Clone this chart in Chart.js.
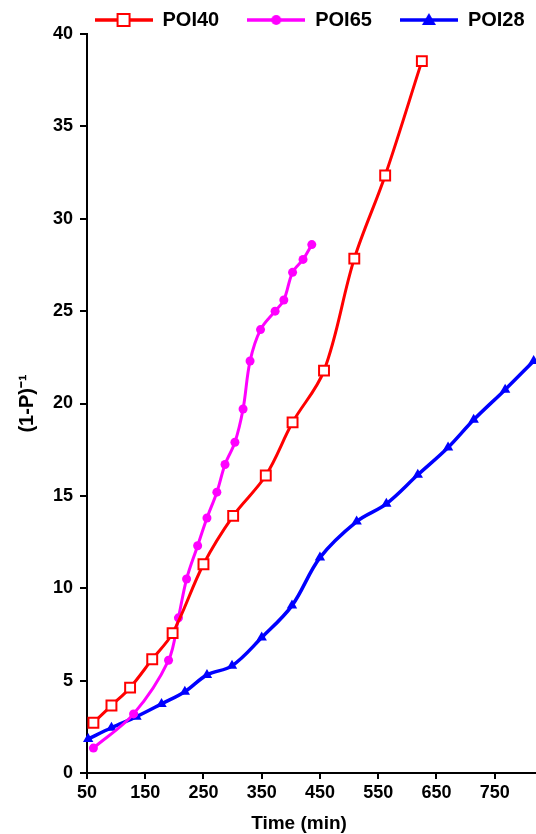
<!DOCTYPE html>
<html>
<head>
<meta charset="utf-8">
<script src="https://cdn.jsdelivr.net/npm/chart.js@4.4.1/dist/chart.umd.min.js"></script>
<style>
html,body{margin:0;padding:0;background:#fff;overflow:hidden;}
#wrap{width:536px;height:834px;position:relative;}
canvas{display:block;}
</style>
</head>
<body>
<div id="wrap"><canvas id="c" width="536" height="834"></canvas></div>
<script>
// ---- data ----
const seriesNames = ['POI40', 'POI65', 'POI28'];

const poi40Time  = [61, 92, 124, 162, 197, 250, 301, 357, 403, 457, 509, 562, 625];
const poi40Value = [2.72, 3.65, 4.62, 6.16, 7.57, 11.3, 13.92, 16.1, 18.98, 21.78, 27.84, 32.34, 38.53];

const poi65Time  = [61, 130, 190, 207, 221, 240, 256, 273, 287, 304, 318, 330, 348, 373, 388, 403, 421, 436];
const poi65Value = [1.35, 3.2, 6.1, 8.4, 10.5, 12.3, 13.8, 15.2, 16.7, 17.9, 19.7, 22.3, 24.0, 25.0, 25.6, 27.1, 27.8, 28.6];

const poi28Time  = [52, 92, 135, 178, 218, 256, 299, 350, 402, 450, 513, 564, 618, 670, 714, 768, 817];
const poi28Value = [1.84, 2.45, 3.05, 3.74, 4.4, 5.31, 5.8, 7.33, 9.06, 11.66, 13.61, 14.57, 16.14, 17.62, 19.12, 20.75, 22.3];

const xTickValues = [50, 150, 250, 350, 450, 550, 650, 750];
const xMin = 50, xMax = 821;
const yTickValues = [0, 5, 10, 15, 20, 25, 30, 35, 40];

const xTitle = 'Time (min)';
const yTitle = '(1-P)\u207B\u00B9';

// ---- helpers ----
const FONT = '"Liberation Sans", Arial, Helvetica, sans-serif';
function pts(xs, ys) { return xs.map((x, i) => ({ x: x, y: ys[i] })); }

function makeIcon(color, kind) {
  const c = document.createElement('canvas');
  c.width = 58; c.height = 18;
  const g = c.getContext('2d');
  g.strokeStyle = color; g.lineWidth = 3.5;
  g.beginPath(); g.moveTo(0, 9); g.lineTo(58, 9); g.stroke();
  const cx = 29, cy = 9;
  if (kind === 'rect') {
    g.fillStyle = '#fff'; g.fillRect(cx - 6, cy - 6, 12, 12);
    g.lineWidth = 2; g.strokeRect(cx - 6, cy - 6, 12, 12);
  } else if (kind === 'circle') {
    g.fillStyle = color; g.beginPath(); g.arc(cx, cy, 5, 0, Math.PI * 2); g.fill();
  } else {
    g.fillStyle = color; g.beginPath();
    g.moveTo(cx, cy - 7); g.lineTo(cx + 7, cy + 5); g.lineTo(cx - 7, cy + 5); g.closePath(); g.fill();
  }
  return c;
}
const legendIcons = [makeIcon('#ff0000', 'rect'), makeIcon('#ff00ff', 'circle'), makeIcon('#0000ff', 'triangle')];

const xTitlePlugin = {
  id: 'xTitlePlugin',
  afterDraw(chart) {
    const ctx = chart.ctx;
    ctx.save();
    ctx.font = 'bold 19px ' + FONT;
    ctx.fillStyle = '#000';
    ctx.textAlign = 'center';
    ctx.textBaseline = 'alphabetic';
    ctx.fillText(xTitle, 299, 829);
    ctx.restore();
  }
};

new Chart(document.getElementById('c'), {
  type: 'line',
  data: {
    datasets: [
      {
        label: seriesNames[0],
        data: pts(poi40Time, poi40Value),
        borderColor: '#ff0000', backgroundColor: '#ffffff',
        borderWidth: 3, tension: 0.35,
        pointStyle: 'rect', pointRadius: 7, pointBorderWidth: 2,
        pointBackgroundColor: '#ffffff', pointBorderColor: '#ff0000'
      },
      {
        label: seriesNames[1],
        data: pts(poi65Time, poi65Value),
        borderColor: '#ff00ff', backgroundColor: '#ff00ff',
        borderWidth: 3, tension: 0.35,
        pointStyle: 'circle', pointRadius: 4.5, pointBorderWidth: 0,
        pointBackgroundColor: '#ff00ff'
      },
      {
        label: seriesNames[2],
        data: pts(poi28Time, poi28Value),
        borderColor: '#0000ff', backgroundColor: '#0000ff',
        borderWidth: 3.5, tension: 0.35,
        pointStyle: 'triangle', pointRadius: 6, pointBorderWidth: 0,
        pointBackgroundColor: '#0000ff', clip: false
      }
    ]
  },
  options: {
    responsive: false,
    animation: false,
    devicePixelRatio: 1,
    layout: { autoPadding: false, padding: { top: -18, right: -16.6, left: 0, bottom: 0 } },
    plugins: {
      legend: {
        position: 'top',
        align: 'end',
        maxHeight: 52,
        labels: {
          usePointStyle: true,
          pointStyleWidth: 58,
          padding: 28,
          color: '#000',
          font: { family: FONT, size: 20, weight: 'bold' },
          generateLabels(chart) {
            const items = Chart.defaults.plugins.legend.labels.generateLabels(chart);
            items.forEach((it, i) => { it.pointStyle = legendIcons[i]; it.fontColor = '#000'; });
            return items;
          }
        }
      },
      tooltip: { enabled: false }
    },
    scales: {
      x: {
        type: 'linear',
        min: xMin, max: xMax,
        afterBuildTicks(scale) { scale.ticks = xTickValues.map(v => ({ value: v })); },
        afterFit(scale) { scale.height = 61; scale.paddingLeft = 0; scale.paddingRight = 0; },
        border: { display: true, color: '#000', width: 2 },
        grid: { display: true, drawOnChartArea: false, drawTicks: true, tickLength: 6, tickColor: '#000', lineWidth: 2, color: '#000' },
        ticks: { color: '#000', padding: 3, maxRotation: 0, autoSkip: false, font: { family: FONT, size: 18, weight: 'bold' } },
        title: { display: false }
      },
      y: {
        type: 'linear',
        min: yTickValues[0], max: yTickValues[yTickValues.length - 1],
        afterBuildTicks(scale) { scale.ticks = yTickValues.map(v => ({ value: v })); },
        afterFit(scale) { scale.width = 87; scale.paddingTop = 0; scale.paddingBottom = 0; },
        border: { display: true, color: '#000', width: 2 },
        grid: { display: true, drawOnChartArea: false, drawTicks: true, tickLength: 7, tickColor: '#000', lineWidth: 2, color: '#000' },
        ticks: { color: '#000', padding: 7, autoSkip: false, font: { family: FONT, size: 18, weight: 'bold' } },
        title: { display: true, text: yTitle, color: '#000', padding: { top: 15, bottom: 0 }, font: { family: FONT, size: 20, weight: 'bold' } }
      }
    }
  },
  plugins: [xTitlePlugin]
});
</script>
</body>
</html>
